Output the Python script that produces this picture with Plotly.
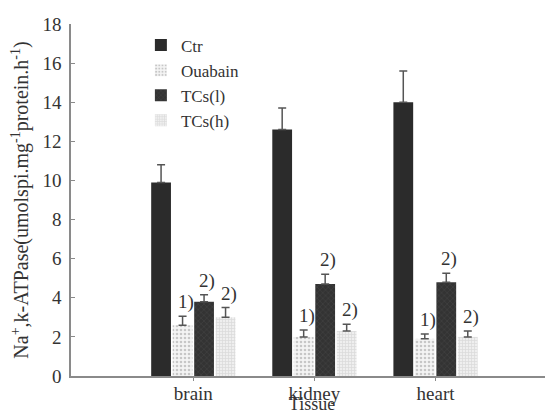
import plotly.graph_objects as go

tissues = ["brain", "kidney", "heart"]
series = ["Ctr", "Ouabain", "TCs(l)", "TCs(h)"]
ctr = [9.9, 12.6, 14.0]
ctr_err = [0.9, 1.1, 1.6]
ouabain = [2.6, 2.0, 1.9]
ouabain_err = [0.45, 0.35, 0.25]
tcs_l = [3.8, 4.7, 4.8]
tcs_l_err = [0.35, 0.5, 0.45]
tcs_h = [3.0, 2.3, 2.0]
tcs_h_err = [0.5, 0.35, 0.3]
sig_ouabain = ["1)", "1)", "1)"]
sig_tcs_l = ["2)", "2)", "2)"]
sig_tcs_h = ["2)", "2)", "2)"]

values = [ctr, ouabain, tcs_l, tcs_h]
errors = [ctr_err, ouabain_err, tcs_l_err, tcs_h_err]
sigs = [None, sig_ouabain, sig_tcs_l, sig_tcs_h]

styles = [
    dict(color="#2b2b2b", pattern=dict(shape="")),
    dict(color="white", pattern=dict(shape=".", fgcolor="#9a9a9a", bgcolor="#f4f4f4", size=4, solidity=0.35)),
    dict(color="#383838", pattern=dict(shape="x", fgcolor="#505050", bgcolor="#333333", size=4, solidity=0.3)),
    dict(color="white", pattern=dict(shape="+", fgcolor="#c4c4c4", bgcolor="#efefef", size=3, solidity=0.4)),
]

xpos = list(range(len(tissues)))
FONT = "Liberation Serif"

fig = go.Figure()
for name, vals, errs, st in zip(series, values, errors, styles):
    fig.add_trace(go.Bar(
        x=xpos, y=vals, name=name,
        marker=dict(color=st["color"], line=dict(width=0), pattern=st["pattern"]),
        error_y=dict(type="data", array=errs, arrayminus=[0] * len(errs), symmetric=False,
                     visible=True, color="#555555", thickness=1.5, width=4),
    ))

bargap = 0.29
n = len(series)
slot = (1 - bargap) / n
annotations = []
for j, (vals, errs, sg) in enumerate(zip(values, errors, sigs)):
    if sg is None:
        continue
    off = -(1 - bargap) / 2 + slot * (j + 0.5)
    for i in range(len(tissues)):
        annotations.append(dict(
            x=xpos[i] + off, y=vals[i] + errs[i], text=sg[i], showarrow=False,
            xref="x", yref="y", yanchor="bottom", xshift=3, yshift=1,
            font=dict(family=FONT, size=19, color="#333333"),
        ))

fig.update_layout(
    width=553, height=406,
    margin=dict(l=63, r=8, t=16, b=38),
    paper_bgcolor="white", plot_bgcolor="white",
    barmode="group", bargap=bargap, bargroupgap=0.08,
    font=dict(family=FONT, size=18, color="#333333"),
    showlegend=True,
    legend=dict(x=0.145, y=0.99, xanchor="left", yanchor="top",
                font=dict(family=FONT, size=17, color="#333333"),
                bgcolor="rgba(0,0,0,0)", itemwidth=30, tracegroupgap=0),
    annotations=annotations,
    xaxis=dict(
        range=[-1.01, 2.97], tickvals=xpos, ticktext=tissues,
        showline=True, linecolor="#8a8a8a", linewidth=1.5,
        ticks="outside", ticklen=3, tickcolor="#8a8a8a",
        showgrid=False, zeroline=False, automargin=False,
        ticklabelstandoff=-4,
        tickfont=dict(family=FONT, size=19, color="#333333"),
        title=dict(text="Tissue", standoff=5, font=dict(family=FONT, size=18, color="#333333")),
    ),
    yaxis=dict(
        range=[0, 18], dtick=2, tick0=0,
        showline=True, linecolor="#8a8a8a", linewidth=1.5,
        ticks="inside", ticklen=4, tickcolor="#8a8a8a",
        showgrid=False, zeroline=False, automargin=False,
        ticklabelstandoff=4,
        tickfont=dict(family=FONT, size=19, color="#333333"),
        title=dict(text="Na<sup>+</sup>,k-ATPase(umolspi.mg<sup>-1</sup>protein.h<sup>-1</sup>)",
                   standoff=14, font=dict(family=FONT, size=20, color="#333333")),
    ),
)

fig.write_html("out.html")
